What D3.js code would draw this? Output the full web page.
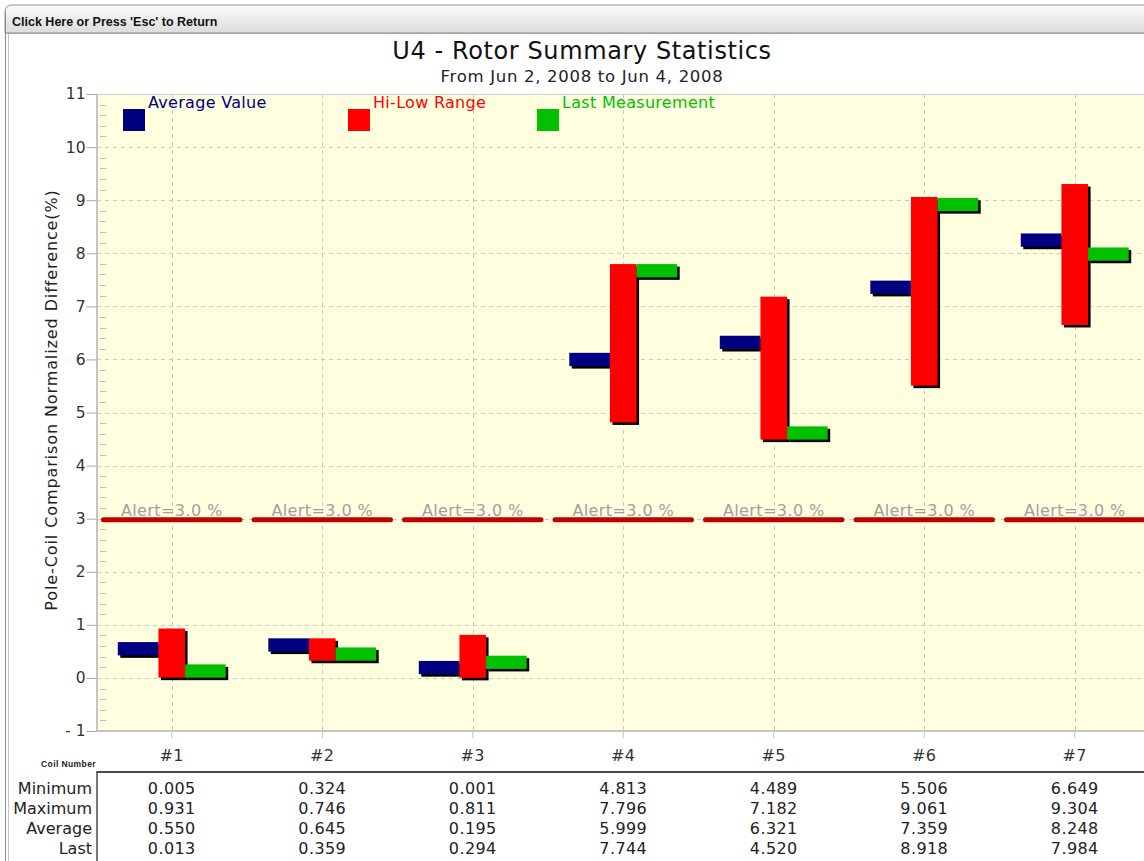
<!DOCTYPE html>
<html><head><meta charset="utf-8">
<script src="https://cdn.jsdelivr.net/npm/d3@7"></script>
<style>body{margin:0;background:#fff;overflow:hidden}svg{display:block}</style>
</head><body><svg id="c" width="1144" height="861"></svg>
<script>
const coils = ["#1","#2","#3","#4","#5","#6","#7"];
const minimum = [0.005,0.324,0.001,4.813,4.489,5.506,6.649];
const maximum = [0.931,0.746,0.811,7.796,7.182,9.061,9.304];
const average = [0.550,0.645,0.195,5.999,6.321,7.359,8.248];
const last    = [0.013,0.359,0.294,7.744,4.520,8.918,7.984];
const alertLevel = 3.0;
const yTickValues = d3.range(-1, 12);
const rowLabels = ["Minimum","Maximum","Average","Last"];
const legendLabels = ["Average Value","Hi-Low Range","Last Measurement"];
const colors = ["#000080","#ff0000","#00c000"];

const FONT = "'DejaVu Sans', Verdana, sans-serif";
const svg = d3.select("#c");
const L=97, R=1150, T=94, B=731;
const x = d3.scaleBand().domain(coils).range([96.5, 1150]).padding(0);
const y = d3.scaleLinear().domain([-1, 11]).range([B, T]);
const bw = x.bandwidth();
const cx = c => x(c) + bw/2;

// ---- window chrome
const defs = svg.append("defs");
const g1 = defs.append("linearGradient").attr("id","tb").attr("x1",0).attr("y1",0).attr("x2",0).attr("y2",1);
g1.append("stop").attr("offset","0%").attr("stop-color","#fbfbfb");
g1.append("stop").attr("offset","100%").attr("stop-color","#dcdcdc");
svg.append("rect").attr("width",1144).attr("height",861).attr("fill","#fff");
svg.append("path").attr("d","M5,33 L5,12 Q5,5 12,5 L1150,5 L1150,33 Z")
  .attr("fill","url(#tb)").attr("stroke","#8f8f8f").attr("stroke-width",1);
svg.append("line").attr("x1",5).attr("x2",1144).attr("y1",33.5).attr("y2",33.5).attr("stroke","#a0a0a0");
svg.append("line").attr("x1",5.5).attr("x2",5.5).attr("y1",12).attr("y2",861).attr("stroke","#8c8c8c");
svg.append("line").attr("x1",8.5).attr("x2",8.5).attr("y1",34).attr("y2",861).attr("stroke","#c4c4c4");
svg.append("text").attr("x",12).attr("y",25.5).text("Click Here or Press 'Esc' to Return")
  .attr("font-family","Tahoma, 'Liberation Sans', Arial, sans-serif").attr("font-weight","bold")
  .attr("font-size",12.5).attr("fill","#111");

// ---- titles
svg.append("text").attr("x",582).attr("y",59).attr("text-anchor","middle")
  .attr("font-family",FONT).attr("font-size",24).attr("letter-spacing",0.6).attr("fill","#111").text("U4 - Rotor Summary Statistics");
svg.append("text").attr("x",582).attr("y",82).attr("text-anchor","middle")
  .attr("font-family",FONT).attr("font-size",16.5).attr("letter-spacing",0.7).attr("fill","#222").text("From Jun 2, 2008 to Jun 4, 2008");

// ---- plot background
svg.append("rect").attr("x",L).attr("y",T).attr("width",R-L).attr("height",B-T).attr("fill","#ffffe0");

// grid
const grid = svg.append("g").attr("stroke","#c8c8c8").attr("stroke-dasharray","4,4").attr("stroke-width",1);
grid.selectAll("line.h").data(yTickValues.filter(v => v > -1 && v < 11)).join("line")
  .attr("x1",L).attr("x2",R).attr("y1",d=>Math.round(y(d))+0.5).attr("y2",d=>Math.round(y(d))+0.5);
grid.selectAll("line.v").data(coils).join("line")
  .attr("x1",d=>Math.round(cx(d))+0.5).attr("x2",d=>Math.round(cx(d))+0.5).attr("y1",T).attr("y2",B);

// minor ticks
const minor = d3.range(-1, 11.001, 0.2).filter(v => Math.abs(v - Math.round(v)) > 0.01);
svg.append("g").selectAll("line").data(minor).join("line")
  .attr("x1",L+3).attr("x2",L+9).attr("y1",d=>Math.round(y(d))+0.5).attr("y2",d=>Math.round(y(d))+0.5)
  .attr("stroke","#bdbdbd");

// axes lines
svg.append("line").attr("x1",L).attr("x2",R).attr("y1",T+0.5).attr("y2",T+0.5).attr("stroke","#cfcfcf");
svg.append("line").attr("x1",L).attr("x2",R).attr("y1",B).attr("y2",B).attr("stroke","#c4c4c4").attr("stroke-width",2);
svg.append("line").attr("x1",L).attr("x2",L).attr("y1",T).attr("y2",B+1).attr("stroke","#c4c4c4").attr("stroke-width",2);

// y axis via d3
const yAxis = d3.axisLeft(y).tickValues(yTickValues).tickSize(10).tickPadding(1).tickFormat(d3.format("d"));
const ya = svg.append("g").attr("transform",`translate(${L-0.5},0)`).call(yAxis);
ya.select(".domain").remove();
ya.selectAll(".tick line").attr("stroke","#a8a8a8");
ya.selectAll(".tick text").attr("font-family",FONT).attr("font-size",15.5).attr("fill","#333")
  .text(d => d < 0 ? "- " + Math.abs(d) : d);

// x axis
const xAxis = d3.axisBottom(x).tickSize(7).tickPadding(12);
const xa = svg.append("g").attr("transform",`translate(0,${B})`).call(xAxis);
xa.select(".domain").remove();
xa.selectAll(".tick line").attr("stroke","#c4c4c4");
xa.selectAll(".tick text").attr("font-family",FONT).attr("font-size",16).attr("letter-spacing",0.5).attr("fill","#333");

svg.append("text").attr("x",96).attr("y",767).attr("text-anchor","end")
  .attr("font-family","'Liberation Sans', Arial, sans-serif").attr("font-weight","bold")
  .attr("font-size",8.5).attr("letter-spacing",0.4).attr("fill","#222").text("Coil Number");

// y axis title
svg.append("text").attr("transform","translate(57,400) rotate(-90)").attr("text-anchor","middle")
  .attr("font-family",FONT).attr("font-size",16).attr("letter-spacing",0.9).attr("fill","#222")
  .text("Pole-Coil Comparison Normalized Difference(%)");

// ---- alert lines
const ag = svg.append("g");
ag.selectAll("line").data(coils).join("line")
  .attr("x1",d=>x(d)+7).attr("x2",d=>x(d)+bw-7)
  .attr("y1",y(alertLevel)+1).attr("y2",y(alertLevel)+1)
  .attr("stroke","#c00000").attr("stroke-width",5).attr("stroke-linecap","round");
ag.selectAll("text").data(coils).join("text")
  .attr("x",d=>cx(d)).attr("y",y(alertLevel)-3).attr("text-anchor","middle")
  .attr("font-family",FONT).attr("font-size",16).attr("letter-spacing",0.4).attr("fill","#a0a0a0")
  .text("Alert=" + alertLevel.toFixed(1) + " %");

// ---- bars
const th = 0.25;
function sideRange(v, lo, hi){
  let a = v - th/2, b = v + th/2;
  if (b > hi) { b = hi; a = hi - th; }
  if (a < lo) { a = lo; b = lo + th; }
  return [a, b];
}
const rw = bw*0.177, sw = bw*0.27;
const bars = [];
coils.forEach((c,i) => {
  const ctr = cx(c);
  const a = sideRange(average[i], minimum[i], maximum[i]);
  const l = sideRange(last[i], minimum[i], maximum[i]);
  bars.push({x0: ctr - rw/2 - sw, x1: ctr - rw/2, lo: a[0], hi: a[1], col: colors[0]});
  bars.push({x0: ctr - rw/2, x1: ctr + rw/2, lo: minimum[i], hi: maximum[i], col: colors[1]});
  bars.push({x0: ctr + rw/2, x1: ctr + rw/2 + sw, lo: l[0], hi: l[1], col: colors[2]});
});
const bg = svg.append("g");
bars.forEach(b => {
  bg.append("rect").attr("x",b.x0+2.5).attr("y",y(b.hi)+2.5).attr("width",b.x1-b.x0).attr("height",y(b.lo)-y(b.hi))
    .attr("fill","#000");
  bg.append("rect").attr("x",b.x0).attr("y",y(b.hi)).attr("width",b.x1-b.x0).attr("height",y(b.lo)-y(b.hi))
    .attr("fill",b.col);
});

// ---- legend
const legX = [123, 348, 537];
legendLabels.forEach((t,i) => {
  svg.append("rect").attr("x",legX[i]).attr("y",109).attr("width",22).attr("height",22).attr("fill",colors[i]);
  svg.append("text").attr("x",legX[i]+25).attr("y",108).attr("font-family",FONT).attr("font-size",16)
    .attr("letter-spacing",0.3).attr("fill",colors[i]).text(t);
});

// ---- data table
svg.append("line").attr("x1",L).attr("x2",1144).attr("y1",772).attr("y2",772).attr("stroke","#4a4a4a").attr("stroke-width",2);
svg.append("line").attr("x1",L).attr("x2",L).attr("y1",771).attr("y2",861).attr("stroke","#4a4a4a").attr("stroke-width",1.5);
const rows = [minimum, maximum, average, last];
const fmt = d3.format(".3f");
rows.forEach((arr, r) => {
  const yy = 794 + r*20;
  svg.append("text").attr("x",92).attr("y",yy).attr("text-anchor","end").attr("font-family",FONT)
    .attr("font-size",16).attr("fill","#222").text(rowLabels[r]);
  svg.append("g").selectAll("text").data(coils).join("text")
    .attr("x",d=>cx(d)).attr("y",yy).attr("text-anchor","middle").attr("font-family",FONT)
    .attr("font-size",16).attr("letter-spacing",0.4).attr("fill","#222").text((d,i)=>fmt(arr[i]));
});
</script></body></html>
